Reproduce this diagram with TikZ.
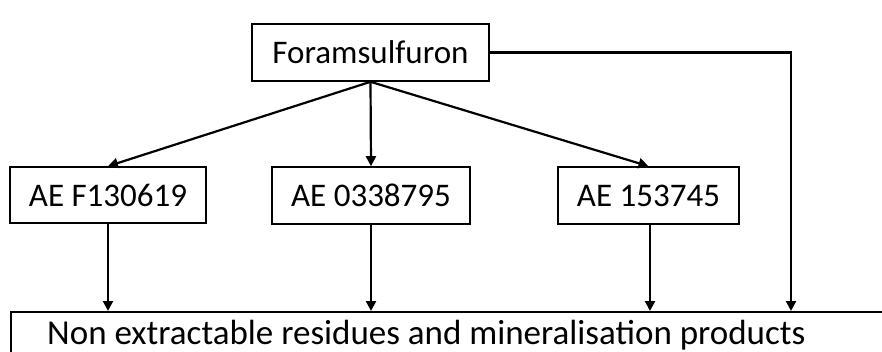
\documentclass[tikz,border=0pt]{standalone}
\usepackage{fontspec}
\setmainfont{Carlito}
\usetikzlibrary{arrows.meta}
\begin{document}
\begin{tikzpicture}[x=1pt,y=-1pt,
  box/.style={draw=black, line width=1.6pt, inner sep=0pt, font=\fontsize{33}{38}\selectfont},
  conn/.style={line width=2.2pt, -{Triangle[length=10pt,width=10pt]}}]
\useasboundingbox (0,0) rectangle (882,352);
\clip (0,0) rectangle (882,352);
\node[box, minimum width=237pt, minimum height=57pt] (top) at (370.5,52.5) {Foramsulfuron};
\node[box, minimum width=196pt, minimum height=56pt] (f1) at (108,195) {AE F130619};
\node[box, minimum width=198pt, minimum height=57pt] (f2) at (371,195.5) {AE 0338795};
\node[box, minimum width=181pt, minimum height=57pt] (f3) at (648.5,195.5) {AE 153745};
\node[box, anchor=north west, minimum width=890pt, minimum height=80pt] (res) at (10,311) {};
\node[anchor=base west, inner sep=0pt, font=\fontsize{35}{40}\selectfont] (reslabel) at (47,344) {Non extractable residues and mineralisation products};
\coordinate (rc) at (791,311);
\draw[conn] (top.south) -- (f1.north);
\draw[conn] (top.south) -- (f2.north);
\draw[conn] (top.south) -- (f3.north);
\draw[conn] (f1.south) -- (f1.south |- res.north);
\draw[conn] (f2.south) -- (f2.south |- res.north);
\draw[conn] ([xshift=1.5pt]f3.south) -- ([xshift=1.5pt]f3.south |- res.north);
\draw[conn] (top.east) -| (rc);
\end{tikzpicture}
\end{document}
